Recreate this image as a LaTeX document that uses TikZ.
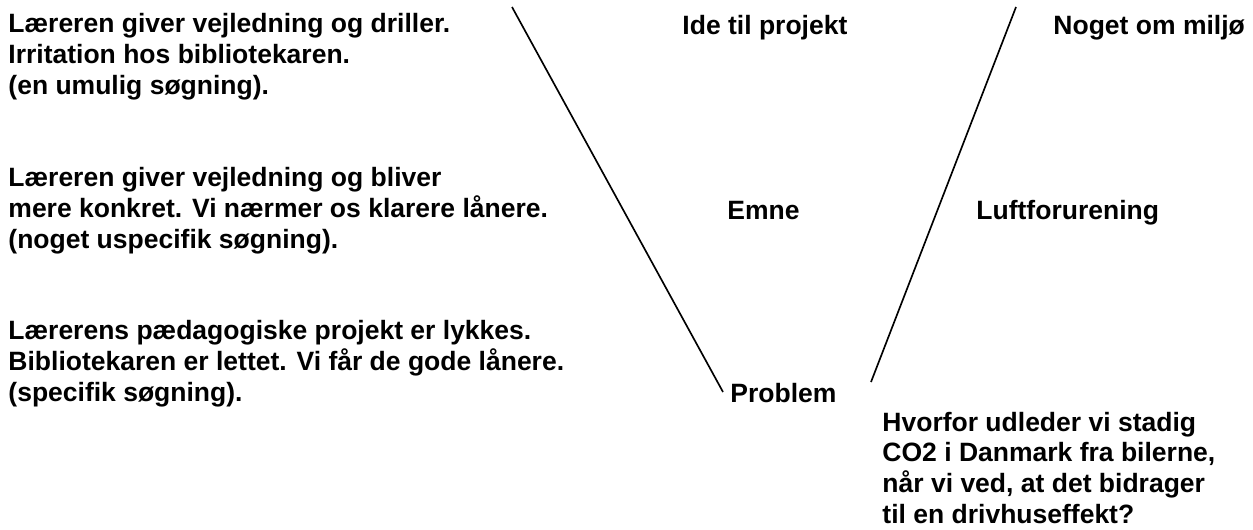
\documentclass[tikz,border=0pt]{standalone}
\usepackage{fontspec}
\setmainfont{Liberation Sans}

\begin{document}
\begin{tikzpicture}[
  x=0.4528pt, y=-0.4528pt,
  txt/.style={anchor=base west, inner sep=0pt, align=left, font=\fontsize{12}{13.86}\selectfont\bfseries},
  side/.style={line width=0.75pt}
]
  \useasboundingbox (0,0) rectangle (1253,529);

  % Comments in the left column (placed at the baseline of the last line)
  \node[txt] (c1) at (8,94) {Læreren giver vejledning og driller.\\Irritation hos bibliotekaren.\\(en umulig søgning).};
  \node[txt] (c2) at (8,248) {Læreren giver vejledning og bliver\\mere konkret. Vi nærmer os klarere lånere.\\(noget uspecifik søgning).};
  \node[txt] (c3) at (8,401) {Lærerens pædagogiske projekt er lykkes.\\Bibliotekaren er lettet. Vi får de gode lånere.\\(specifik søgning).};

  % Levels inside the funnel
  \node[txt] (ide) at (682,34) {Ide til projekt};
  \node[txt] (emne) at (727,219) {Emne};
  \node[txt] (problem) at (730,402) {Problem};

  % Example to the right
  \node[txt] (miljo) at (1053,34) {Noget om miljø};
  \node[txt] (luft) at (976,219) {Luftforurening};
  \node[txt] (hvorfor) at (882,523) {Hvorfor udleder vi stadig\\CO2 i Danmark fra bilerne,\\når vi ved, at det bidrager\\til en drivhuseffekt?};

  % Funnel sides
  \coordinate (ltop) at (512,7);
  \coordinate (lbot) at (723,392);
  \coordinate (rtop) at (1016,7);
  \coordinate (rbot) at (871,382);
  \draw[side] (ltop) -- (lbot);
  \draw[side] (rtop) -- (rbot);
\end{tikzpicture}
\end{document}
